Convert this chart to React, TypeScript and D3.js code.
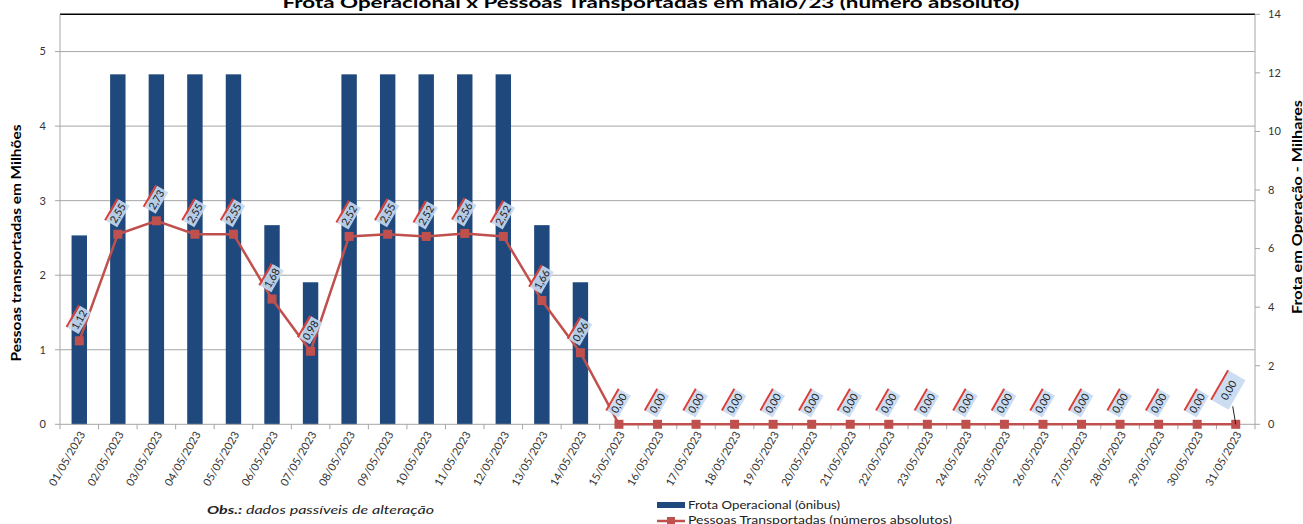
import React from 'react';
import * as d3 from 'd3';

// dias de maio/23
const days = [
  '01/05/2023', '02/05/2023', '03/05/2023', '04/05/2023', '05/05/2023', '06/05/2023',
  '07/05/2023', '08/05/2023', '09/05/2023', '10/05/2023', '11/05/2023', '12/05/2023',
  '13/05/2023', '14/05/2023', '15/05/2023', '16/05/2023', '17/05/2023', '18/05/2023',
  '19/05/2023', '20/05/2023', '21/05/2023', '22/05/2023', '23/05/2023', '24/05/2023',
  '25/05/2023', '26/05/2023', '27/05/2023', '28/05/2023', '29/05/2023', '30/05/2023',
  '31/05/2023',
];

// Frota operacional (milhares de ônibus) - eixo direito
const frota = [
  6.45, 11.95, 11.95, 11.95, 11.95, 6.8, 4.85, 11.95, 11.95, 11.95, 11.95, 11.95,
  6.8, 4.85, 0, 0, 0, 0, 0, 0, 0, 0, 0, 0, 0, 0, 0, 0, 0, 0, 0,
];

// Pessoas transportadas (milhões) - eixo esquerdo
const pessoas = [
  1.12, 2.55, 2.73, 2.55, 2.55, 1.68, 0.98, 2.52, 2.55, 2.52, 2.56, 2.52,
  1.66, 0.96, 0, 0, 0, 0, 0, 0, 0, 0, 0, 0, 0, 0, 0, 0, 0, 0, 0,
];

const leftTicks = [0, 1, 2, 3, 4, 5];
const rightTicks = [0, 2, 4, 6, 8, 10, 12, 14];

const W = 1303;
const H = 524;
const M = { left: 60, right: 1255, top: 14.3, bottom: 424.3 };

const BAR = '#1f497d';
const RED = '#c0504d';
const GRID = '#a6a6a6';
const TXT = '#333333';
const FONT = 'Lato, "Liberation Sans", sans-serif';

const fmt = (v: number) => v.toFixed(2).replace('.', ',');

const App = () => {
  const x = d3.scaleBand<string>().domain(days).range([M.left, M.right]).padding(0);
  const step = x.step();
  const cx = (d: string) => (x(d) as number) + step / 2;
  const yL = d3.scaleLinear().domain([0, 5.5]).range([M.bottom, M.top]);
  const yR = d3.scaleLinear().domain([0, 14]).range([M.bottom, M.top]);
  const barW = step * 0.4;

  const line = d3
    .line<number>()
    .x((_, i) => cx(days[i]))
    .y((v) => yL(v));

  const last = days.length - 1;

  return (
    <svg width={W} height={H} style={{ position: 'absolute', left: 0, top: 0, background: '#fff' }} fontFamily={FONT}>
      {/* titulo */}
      <text x={651} y={8} textAnchor="middle" fontWeight="bold" fontSize={16} fill="#000" textLength={737} lengthAdjust="spacingAndGlyphs">
        Frota Operacional x Pessoas Transportadas em maio/23 (número absoluto)
      </text>

      {/* grade */}
      {leftTicks.slice(1).map((t) => (
        <line key={t} x1={M.left} x2={M.right} y1={yL(t)} y2={yL(t)} stroke={GRID} strokeWidth={1} />
      ))}
      <line x1={M.left} x2={M.right} y1={M.top} y2={M.top} stroke="#000" strokeWidth={1.5} />

      {/* barras */}
      {days.map((d, i) =>
        frota[i] > 0 ? (
          <rect key={d} x={cx(d) - barW / 2} y={yR(frota[i])} width={barW} height={yR(0) - yR(frota[i])} fill={BAR} />
        ) : null
      )}

      {/* eixos */}
      <line x1={M.left} x2={M.left} y1={M.top} y2={M.bottom} stroke={GRID} />
      <line x1={M.right} x2={M.right} y1={M.top} y2={M.bottom} stroke={GRID} />
      <line x1={M.left} x2={M.right} y1={M.bottom} y2={M.bottom} stroke={GRID} />
      {days.map((d) => (
        <line key={d} x1={x(d)} x2={x(d)} y1={M.bottom} y2={M.bottom + 5} stroke={GRID} />
      ))}
      <line x1={M.right} x2={M.right} y1={M.bottom} y2={M.bottom + 5} stroke={GRID} />

      {leftTicks.map((t) => (
        <g key={t}>
          <line x1={M.left - 5} x2={M.left} y1={yL(t)} y2={yL(t)} stroke={GRID} />
          <text x={46} y={yL(t)} dy="0.35em" textAnchor="end" fontSize={11} fill={TXT}>
            {t}
          </text>
        </g>
      ))}
      {rightTicks.map((t) => (
        <g key={t}>
          <line x1={M.right} x2={M.right + 5} y1={yR(t)} y2={yR(t)} stroke={GRID} />
          <text x={1268} y={yR(t)} dy="0.35em" textAnchor="start" fontSize={11} fill={TXT}>
            {t}
          </text>
        </g>
      ))}

      {days.map((d) => (
        <text
          key={d}
          transform={`translate(${cx(d) + 3},${M.bottom + 8}) rotate(-60)`}
          textAnchor="end"
          dy="0.35em"
          fontSize={11}
          fill={TXT}
        >
          {d}
        </text>
      ))}

      {/* titulos dos eixos */}
      <text transform="translate(21,243) rotate(-90)" textAnchor="middle" fontWeight="bold" fontSize={13} fill="#000" textLength={237} lengthAdjust="spacingAndGlyphs">
        Pessoas transportadas em Milhões
      </text>
      <text transform="translate(1302,207) rotate(-90)" textAnchor="middle" fontWeight="bold" fontSize={12.5} fill="#000" textLength={214} lengthAdjust="spacingAndGlyphs">
        Frota  em Operação - Milhares
      </text>

      {/* linha */}
      <path d={line(pessoas) || ''} fill="none" stroke={RED} strokeWidth={2.5} />
      {pessoas.map((v, i) => (
        <rect key={i} x={cx(days[i]) - 4.5} y={yL(v) - 4.5} width={9} height={9} fill={RED} />
      ))}

      {/* rotulos */}
      <line x1={cx(days[last]) - 3} y1={yL(pessoas[last]) - 18} x2={cx(days[last])} y2={yL(pessoas[last])} stroke="#222" strokeWidth={1} />
      {pessoas.map((v, i) => {
        const big = i === last;
        const w = big ? 34 : 25;
        const h = big ? 19 : 13;
        const px = cx(days[i]) + (big ? -7 : 0);
        const py = yL(v) - (big ? 34 : 21);
        return (
          <g key={i} transform={`translate(${px},${py}) rotate(-60)`}>
            <rect x={-w / 2} y={-h / 2} width={w} height={h} fill="#c6d9f1" opacity={0.9} />
            <line x1={-w / 2} x2={w / 2} y1={-h / 2 - 1} y2={-h / 2 - 1} stroke="#d9403a" strokeWidth={2} />
            <text x={0} y={0} dy="0.35em" textAnchor="middle" fontSize={10.5} fill="#1a1a1a">
              {fmt(v)}
            </text>
          </g>
        );
      })}

      {/* observacao */}
      <text x={207} y={514} fontSize={12} fontStyle="italic" fill="#222" textLength={227} lengthAdjust="spacingAndGlyphs">
        <tspan fontWeight="bold">Obs.:</tspan> dados passíveis de alteração
      </text>

      {/* legenda */}
      <rect x={657} y={502} width={28} height={6} fill={BAR} />
      <text x={688} y={509} fontSize={11} fill="#222" textLength={152} lengthAdjust="spacingAndGlyphs">
        Frota Operacional (ônibus)
      </text>
      <line x1={657} x2={685} y1={521} y2={521} stroke={RED} strokeWidth={2.5} />
      <rect x={667} y={517} width={8} height={8} fill={RED} />
      <text x={688} y={524} fontSize={11} fill="#222" textLength={264} lengthAdjust="spacingAndGlyphs">
        Pessoas Transportadas (números absolutos)
      </text>
    </svg>
  );
};

export default App;
